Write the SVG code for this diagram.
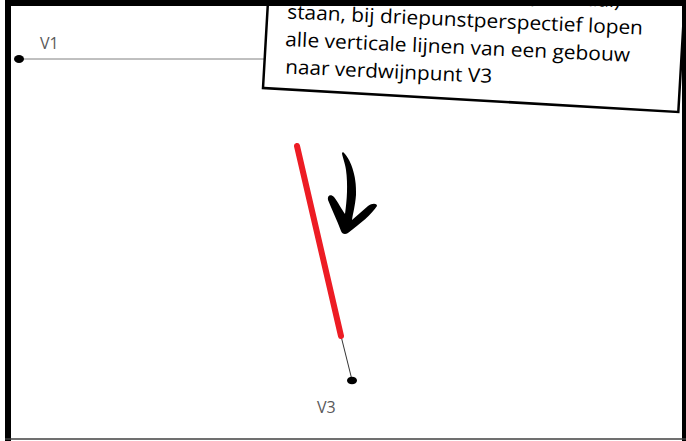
<svg xmlns="http://www.w3.org/2000/svg" width="686" height="441" viewBox="0 0 686 441">
<style>
.lbl{font-family:"Open Sans","Noto Sans",sans-serif;font-size:16px;fill:#595959}
.note{font-family:"Open Sans","Noto Sans",sans-serif;font-size:19.5px;fill:#000}
.dot{fill:#000}
</style>
<rect width="686" height="441" fill="#fff"/>
<g id="connectors">
<line x1="19" y1="59" x2="272" y2="59" stroke="#808080" stroke-width="1"/>
<line x1="341" y1="336" x2="352" y2="380" stroke="#000" stroke-width="0.8"/>
<line x1="297" y1="146" x2="341" y2="336" stroke="#ed1c24" stroke-width="6" stroke-linecap="round"/>
<path d="M343,152 C350,158 357,175 356,195 C355,207 353,213 352,220 L368,206 C372,203 377,203 377,206 C372,214 360,224 348,233 C345,235 342,234 341,231 C337,220 332,210 328,200 C327,195 331,194 334,197 C338,202 342,210 345,214 C347,200 348,185 346,170 C345,162 342,156 342,153 Z" fill="#000"/>
</g>
<g id="V1">
<ellipse class="dot" cx="19" cy="59" rx="5" ry="4"/>
<text class="lbl" x="40" y="49">V1</text>
</g>
<g id="V3">
<ellipse class="dot" cx="352" cy="380.5" rx="5" ry="3.8"/>
<text class="lbl" x="317" y="413">V3</text>
</g>
<g id="note">
<rect x="263" y="-70" width="416" height="158" fill="#fff" stroke="#000" stroke-width="2.5" transform="rotate(3.3 263 88)"/>
<text class="note" x="528" y="3" textLength="92" lengthAdjust="spacingAndGlyphs" transform="rotate(2.6 528 3)">(verticaal)</text>
<text class="note" x="287" y="18.5" textLength="356" lengthAdjust="spacingAndGlyphs" transform="rotate(2.6 287 18.5)">staan, bij driepunstperspectief lopen</text>
<text class="note" x="285" y="46" textLength="345" lengthAdjust="spacingAndGlyphs" transform="rotate(2.6 285 46)">alle verticale lijnen van een gebouw</text>
<text class="note" x="285" y="73.5" textLength="207" lengthAdjust="spacingAndGlyphs" transform="rotate(2.6 285 73.5)">naar verdwijnpunt V3</text>
</g>
<g id="frame">
<rect x="5" y="0" width="6" height="441" fill="#000"/>
<rect x="5" y="0" width="681" height="6" fill="#000"/>
<rect x="682" y="0" width="4" height="441" fill="#000"/>
<line x1="5" y1="439" x2="686" y2="439" stroke="#404040" stroke-width="1.5"/>
</g>
</svg>
